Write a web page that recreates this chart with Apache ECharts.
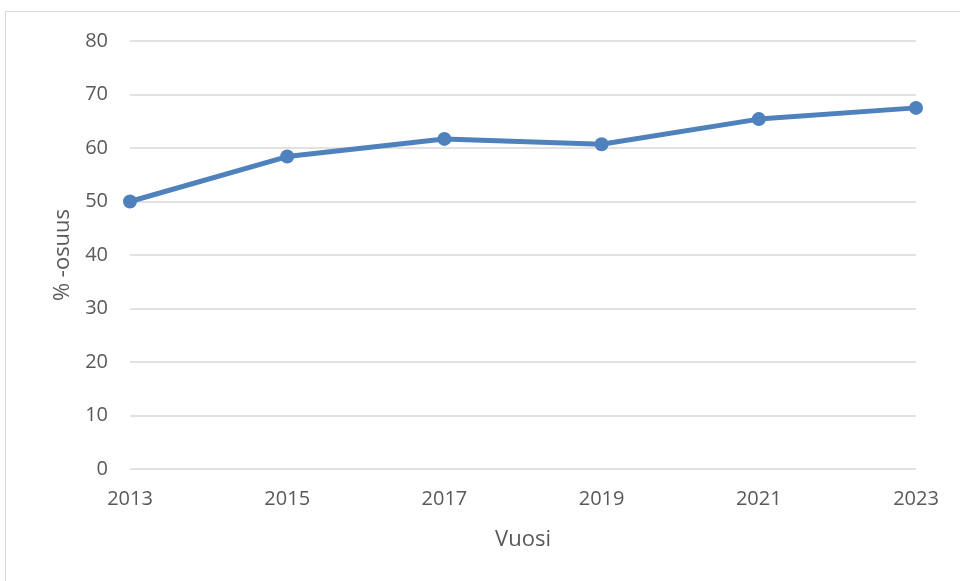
<!DOCTYPE html>
<html>
<head>
<meta charset="utf-8">
<script src="https://cdn.jsdelivr.net/npm/echarts@6/dist/echarts.min.js"></script>
<style>
  html, body { margin: 0; padding: 0; background: #fff; }
  #frame {
    position: absolute; left: 5px; top: 11px; width: 970px; height: 590px;
    border: 1px solid #d9d9d9; box-sizing: border-box;
  }
  #chart { position: absolute; left: 0; top: 0; width: 960px; height: 581px; }
</style>
</head>
<body>
<div id="frame"></div>
<div id="chart"></div>
<script>
const years = ["2013", "2015", "2017", "2019", "2021", "2023"];
const shares = [50.0, 58.4, 61.7, 60.7, 65.4, 67.5];
const yTicks = { min: 0, max: 80, step: 10 };

const chart = echarts.init(document.getElementById("chart"));
const textColor = "#595959";
const fontFamily = "'Open Sans', sans-serif";

chart.setOption({
  animation: false,
  grid: { left: 130, right: 44, top: 41, bottom: 112 },
  xAxis: {
    type: "category",
    data: years,
    boundaryGap: false,
    name: "Vuosi",
    nameLocation: "middle",
    nameGap: 60,
    nameTextStyle: { color: textColor, fontSize: 22, fontFamily },
    axisLine: { show: false },
    axisTick: { show: false },
    axisLabel: { color: textColor, fontSize: 20, fontFamily, margin: 20 }
  },
  yAxis: {
    type: "value",
    min: yTicks.min,
    max: yTicks.max,
    interval: yTicks.step,
    name: "% -osuus",
    nameLocation: "middle",
    nameGap: 55,
    nameTextStyle: { color: textColor, fontSize: 22, fontFamily },
    axisLine: { show: false },
    axisTick: { show: false },
    axisLabel: { color: textColor, fontSize: 20, fontFamily, margin: 22 },
    splitLine: { lineStyle: { color: "#d9d9d9", width: 1.5 } }
  },
  series: [{
    type: "line",
    data: shares,
    symbol: "circle",
    symbolSize: 14,
    lineStyle: { color: "#4f81bd", width: 5 },
    itemStyle: { color: "#4f81bd" }
  }]
});
</script>
</body>
</html>
